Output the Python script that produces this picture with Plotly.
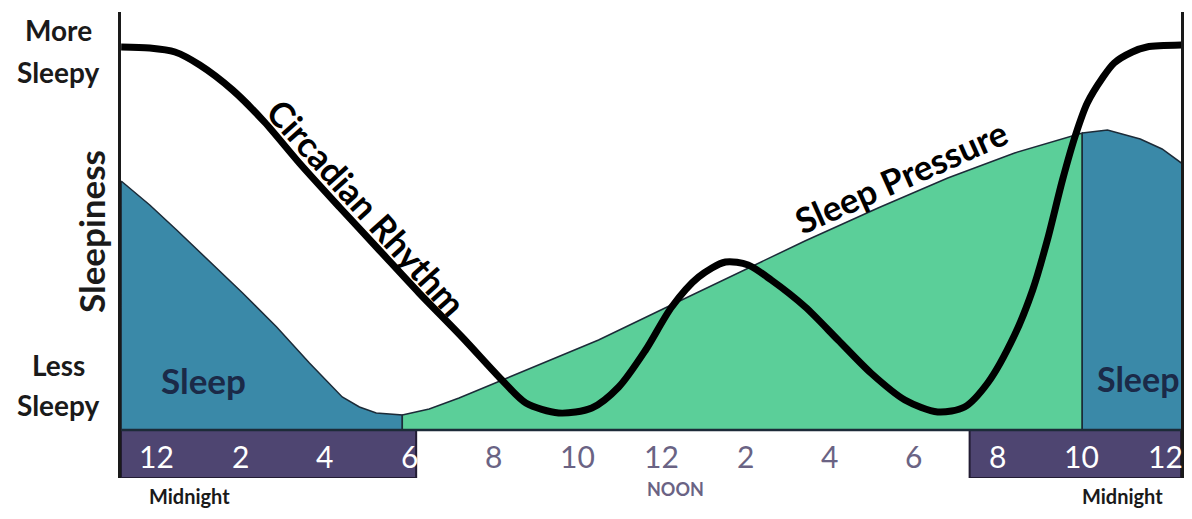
import plotly.graph_objects as go

# hours after midnight (x) and sleepiness 0-100 (y)
circ_hours = [-0.85, -0.17, 0.43, 1.02, 1.80, 2.56, 3.39, 4.34, 5.29, 6.24, 7.26,
              8.21, 8.78, 9.56, 10.35, 10.99, 11.63, 12.25, 12.89, 13.53, 14.07,
              14.62, 15.43, 16.21, 16.99, 17.80, 18.58, 19.22, 19.77, 20.41, 20.84,
              21.19, 21.55, 21.86, 22.14, 22.50, 22.78, 23.21, 23.56, 24.51]
circ_level = [95.75, 95.5, 94.5, 91.25, 85, 77, 66.75, 55.75, 45, 34.25, 23.25,
              12.5, 6.75, 4.25, 5.5, 10.75, 20, 30.75, 38.25, 42, 41.25,
              37.5, 30.75, 22.5, 14.25, 7.5, 4.5, 5.75, 11.75, 23.75, 35,
              47.5, 62.5, 73.75, 81.75, 88, 91.75, 94.5, 95.75, 96.25]

night_hours = [-0.85, -0.17, 0.47, 1.26, 2.04, 2.85, 3.63, 4.41, 4.82, 5.22, 5.84]
night_level = [62.25, 56.25, 50, 42, 34.25, 25.75, 16.75, 8.25, 5.75, 4.25, 3.75]

day_hours = [5.84, 6.48, 7.19, 8.61, 10.51, 12.24, 14.07, 15.42, 17.16, 18.82,
             20.41, 21.19, 22.02]
day_level = [3.75, 5.25, 8, 14.25, 22.5, 31.25, 40.5, 47.25, 55.5, 63,
             69.25, 71.75, 74.25]

late_hours = [22.02, 22.62, 23.40, 23.92, 24.51]
late_level = [74.25, 75, 72.75, 70.25, 65.75]

tick_hours = [0, 2, 4, 6, 8, 10, 12, 14, 16, 18, 20, 22, 24]
tick_text = ['12', '2', '4', '6', '8', '10', '12', '2', '4', '6', '8', '10', '12']

X0, X1 = -0.854, 24.37
Y0, Y1 = -12, 104.5

# dark parts of the clock band (asleep)
band_dark = [(X0, 6.17), (19.34, X1)]

BLUE = '#3a89a8'
GREEN = '#5bcf99'
BAND = '#4e4571'
EDGE = '#1c2b38'
GREY = '#6a6384'
NAVY = '#1b2a48'
INK = '#1a1a1a'
FONT = 'Lato'


def area(hours, level, color):
    xs = hours + [hours[-1], hours[0], hours[0]]
    ys = level + [0, 0, level[0]]
    return go.Scatter(x=xs, y=ys, fill='toself', fillcolor=color,
                      mode='lines', line=dict(color=EDGE, width=1.5),
                      hoverinfo='skip', showlegend=False)


def label(text, x, y, size, color=INK, angle=0, **kw):
    fig.add_annotation(x=x, y=y, text=text, showarrow=False, textangle=angle,
                       xanchor='center', yanchor='middle',
                       font=dict(family=FONT, size=size, color=color,
                                 weight='bold'), **kw)


fig = go.Figure()
fig.add_trace(area(night_hours, night_level, BLUE))
fig.add_trace(area(day_hours, day_level, GREEN))
fig.add_trace(area(late_hours, late_level, BLUE))
fig.add_trace(go.Scatter(x=circ_hours, y=circ_level, mode='lines',
                         line=dict(color='black', width=7, shape='spline',
                                   smoothing=0.8),
                         hoverinfo='skip', showlegend=False))

for a, b in band_dark:
    fig.add_shape(type='rect', x0=a, x1=b, y0=-12, y1=0, xref='x', yref='y',
                  fillcolor=BAND, line=dict(color='#221c33', width=2),
                  layer='above')
fig.add_shape(type='line', x0=X0, x1=X1, y0=0, y1=0, xref='x', yref='y',
              line=dict(color=EDGE, width=2.5), layer='above')

for h, t in zip(tick_hours, tick_text):
    dark = any(a <= h <= b for a, b in band_dark)
    fig.add_annotation(x=h, y=-6.5, text=t, showarrow=False,
                       font=dict(family=FONT, size=30,
                                 color='white' if dark else GREY))

label('Midnight', 0.78, -0.038, 20, yref='paper')
label('Midnight', 22.97, -0.038, 20, yref='paper')
label('NOON', 12.34, -0.024, 18, color=GREY, yref='paper')

# y side labels
for txt, yv in [('More', 100), ('Sleepy', 89.5), ('Less', 16.25), ('Sleepy', 6.25)]:
    label(txt, 0, yv, 28, xref='paper', xshift=-63)
label('Sleepiness', 0, 49.5, 35, angle=-90, xref='paper', xshift=-30)

# curve and area labels
label('Circadian Rhythm', 5.0, 55.75, 35, color='black', angle=48)
label('Sleep Pressure', 17.7, 63.5, 35, color='black', angle=-24)
label('Sleep', 1.12, 12.5, 35, color=NAVY)
label('Sleep', 23.35, 13.0, 34, color=NAVY)

fig.update_xaxes(range=[X0, X1], visible=False, fixedrange=True)
fig.update_yaxes(range=[Y0, Y1], showgrid=False, zeroline=False,
                 showticklabels=False, ticks='', showline=True, mirror=True,
                 linecolor=INK, linewidth=2.5, fixedrange=True)
fig.update_layout(width=1176, height=503, margin=dict(l=113, r=0, t=4, b=33),
                  paper_bgcolor='white', plot_bgcolor='white', showlegend=False)

fig.write_html('out.html')
